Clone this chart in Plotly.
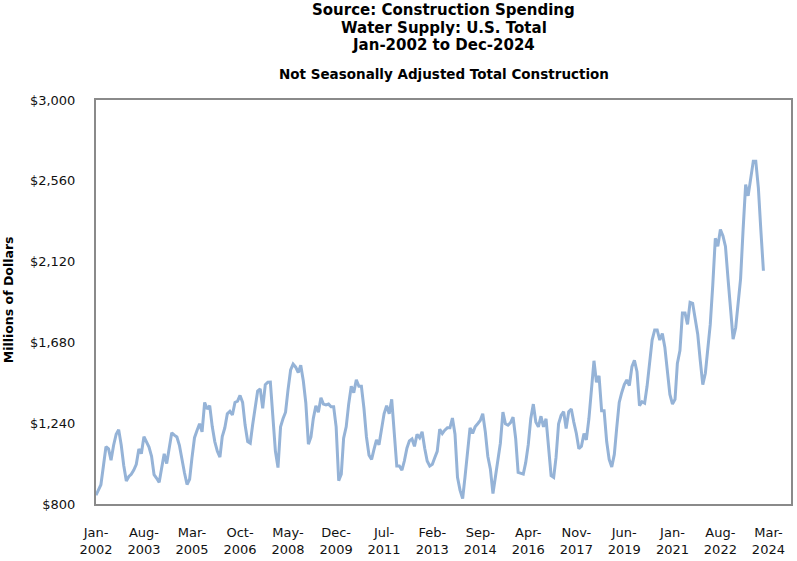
import pandas as pd
import plotly.graph_objects as go

# monthly values, millions of dollars, Jan-2002 onward
y2002 = [848, 875, 905, 1010, 1112, 1100, 1038, 1120, 1180, 1205, 1120, 1010]
y2003 = [925, 950, 962, 985, 1016, 1100, 1074, 1167, 1140, 1110, 1060, 960]
y2004 = [940, 918, 995, 1073, 1020, 1105, 1188, 1175, 1165, 1120, 1040, 970]
y2005 = [906, 935, 1050, 1161, 1200, 1237, 1193, 1353, 1317, 1335, 1220, 1140]
y2006 = [1087, 1055, 1167, 1215, 1291, 1305, 1285, 1353, 1360, 1391, 1353, 1230]
y2007 = [1140, 1131, 1229, 1317, 1415, 1427, 1321, 1450, 1463, 1464, 1264, 1087]
y2008 = [998, 1220, 1264, 1300, 1423, 1530, 1562, 1545, 1516, 1556, 1470, 1350]
y2009 = [1126, 1165, 1265, 1335, 1300, 1379, 1344, 1339, 1344, 1330, 1330, 1220]
y2010 = [927, 963, 1158, 1220, 1344, 1441, 1406, 1476, 1441, 1441, 1320, 1165]
y2011 = [1065, 1043, 1096, 1149, 1123, 1220, 1291, 1335, 1291, 1370, 1176, 1007]
y2012 = [1007, 984, 1034, 1104, 1144, 1154, 1114, 1179, 1161, 1193, 1104, 1034]
y2013 = [1007, 1016, 1050, 1087, 1207, 1184, 1202, 1215, 1215, 1268, 1180, 945]
y2014 = [874, 830, 945, 1070, 1215, 1184, 1220, 1237, 1255, 1291, 1193, 1060]
y2015 = [990, 857, 945, 1034, 1131, 1300, 1237, 1229, 1243, 1273, 1158, 972]
y2016 = [966, 963, 1025, 1123, 1264, 1344, 1246, 1220, 1278, 1220, 1264, 1104]
y2017 = [954, 945, 1052, 1237, 1282, 1303, 1211, 1303, 1317, 1246, 1184, 1101]
y2018 = [1114, 1184, 1149, 1264, 1441, 1580, 1463, 1498, 1308, 1308, 1140, 1043]
y2019 = [1002, 1070, 1211, 1353, 1406, 1450, 1476, 1445, 1548, 1583, 1521, 1335]
y2020 = [1357, 1349, 1441, 1565, 1693, 1748, 1748, 1693, 1728, 1654, 1530, 1397]
y2021 = [1344, 1370, 1565, 1636, 1840, 1840, 1778, 1898, 1893, 1813, 1725, 1583]
y2022 = [1450, 1512, 1636, 1778, 1990, 2247, 2203, 2295, 2260, 2203, 2026, 1848]
y2023 = [1698, 1760, 1884, 2026, 2291, 2539, 2478, 2575, 2667, 2667, 2522, 2291]
y2024 = [2070]

tick_labels = ["Jan-2002", "Aug-2003", "Mar-2005", "Oct-2006", "May-2008",
               "Dec-2009", "Jul-2011", "Feb-2013", "Sep-2014", "Apr-2016",
               "Nov-2017", "Jun-2019", "Jan-2021", "Aug-2022", "Mar-2024"]

spending = (y2002 + y2003 + y2004 + y2005 + y2006 + y2007 + y2008 + y2009
            + y2010 + y2011 + y2012 + y2013 + y2014 + y2015 + y2016 + y2017
            + y2018 + y2019 + y2020 + y2021 + y2022 + y2023 + y2024)
months = pd.date_range("2002-01-01", periods=len(spending), freq="MS")
tick_dates = [pd.to_datetime(t, format="%b-%Y") for t in tick_labels]

FONT = "DejaVu Sans"

fig = go.Figure(
    go.Scatter(
        x=months,
        y=spending,
        mode="lines",
        line=dict(color="#95B3D7", width=3),
        hoverinfo="skip",
    )
)

axis_common = dict(
    showgrid=False,
    zeroline=False,
    showline=True,
    mirror=True,
    linecolor="#8a8a8a",
    linewidth=2,
    ticks="outside",
    tickcolor="rgba(0,0,0,0)",
    tickfont=dict(family=FONT, size=13, color="#111111"),
)

fig.update_layout(
    width=797,
    height=561,
    margin=dict(l=96, r=4, t=100, b=47),
    paper_bgcolor="white",
    plot_bgcolor="white",
    showlegend=False,
    xaxis=dict(
        axis_common,
        type="date",
        range=["2002-01-01", "2024-11-28"],
        tickvals=tick_dates,
        ticktext=[t.replace("-", "-<br>") for t in tick_labels],
        ticklen=15,
    ),
    yaxis=dict(
        axis_common,
        range=[800, 3000],
        tick0=800,
        dtick=440,
        tickformat="$,.0f",
        ticklen=16,
    ),
)

titles = [
    ("<b>Source: Construction Spending</b>", 8, 15),
    ("<b>Water Supply: U.S. Total</b>", 26, 15),
    ("<b>Jan-2002 to Dec-2024</b>", 44, 15),
    ("<b>Not Seasonally Adjusted Total Construction</b>", 73, 13.5),
]
for text, ypix, size in titles:
    fig.add_annotation(
        text=text, xref="paper", yref="paper",
        x=0.5, y=(514 - ypix) / 414,
        xanchor="center", yanchor="middle", showarrow=False,
        font=dict(family=FONT, size=size, color="black"),
    )

fig.add_annotation(
    text="<b>Millions of Dollars</b>", xref="paper", yref="paper",
    x=(8 - 96) / 697, y=(514 - 305) / 414, textangle=-90,
    xanchor="center", yanchor="middle", showarrow=False,
    font=dict(family=FONT, size=12.5, color="black"),
)

# drop the browser's default 8px body margin so the figure fills the window
fig.write_html(
    "out.html",
    config={"displayModeBar": False},
    post_script="document.body.style.margin = '0';",
)
